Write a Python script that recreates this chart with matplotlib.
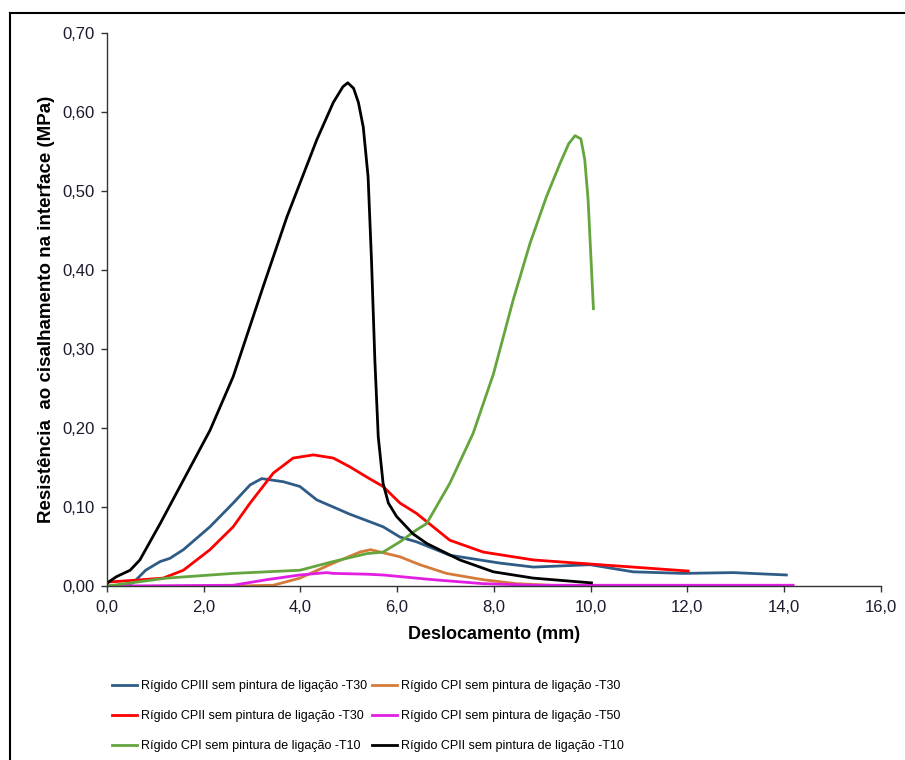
import matplotlib
matplotlib.use("Agg")
import matplotlib.pyplot as plt
from matplotlib.lines import Line2D
from matplotlib.ticker import FuncFormatter

plt.rcParams["font.family"] = ["Liberation Sans", "DejaVu Sans"]

# --- data (x: mm, y: MPa) ---
blue_x = [0.0, 0.30, 0.54, 0.80, 1.10, 1.30, 1.58, 2.13, 2.61, 2.96, 3.20, 3.65, 3.99, 4.34, 5.02, 5.71, 6.06, 6.40, 7.09, 8.13, 8.82, 9.99, 10.88, 11.92, 12.95, 14.05]
blue_y = [0.0, 0.0, 0.004, 0.020, 0.031, 0.035, 0.046, 0.075, 0.105, 0.128, 0.136, 0.132, 0.126, 0.109, 0.091, 0.075, 0.062, 0.056, 0.039, 0.029, 0.024, 0.027, 0.018, 0.016, 0.017, 0.014]

orange_x = [2.60, 3.44, 3.99, 4.68, 5.23, 5.45, 6.06, 6.47, 7.02, 7.78, 8.47, 9.50]
orange_y = [0.0, 0.001, 0.010, 0.029, 0.043, 0.046, 0.037, 0.027, 0.016, 0.008, 0.003, 0.0]

red_x = [0.0, 0.50, 1.16, 1.58, 2.13, 2.61, 2.96, 3.44, 3.85, 4.27, 4.68, 5.02, 5.37, 5.71, 6.06, 6.40, 7.09, 7.78, 8.82, 10.19, 12.02]
red_y = [0.005, 0.007, 0.010, 0.020, 0.046, 0.075, 0.105, 0.143, 0.162, 0.166, 0.162, 0.151, 0.138, 0.126, 0.105, 0.092, 0.058, 0.043, 0.033, 0.027, 0.019]

pink_x = [0.0, 2.61, 3.30, 3.99, 4.54, 4.68, 5.37, 5.71, 6.40, 6.75, 7.78, 8.82, 14.19]
pink_y = [0.0, 0.001, 0.008, 0.014, 0.017, 0.016, 0.015, 0.014, 0.010, 0.008, 0.003, 0.001, 0.001]

green_x = [0.0, 1.23, 2.61, 3.99, 4.68, 5.37, 5.71, 6.06, 6.40, 6.61, 7.09, 7.57, 7.99, 8.40, 8.75, 9.09, 9.37, 9.55, 9.68, 9.80, 9.88, 9.95, 10.06]
green_y = [0.0, 0.010, 0.016, 0.020, 0.031, 0.041, 0.043, 0.056, 0.071, 0.079, 0.130, 0.193, 0.268, 0.362, 0.434, 0.493, 0.535, 0.560, 0.570, 0.566, 0.540, 0.489, 0.351]

black_x = [0.0, 0.03, 0.20, 0.48, 0.68, 1.10, 1.58, 2.13, 2.61, 3.23, 3.72, 4.34, 4.68, 4.88, 4.98, 5.10, 5.20, 5.30, 5.40, 5.47, 5.54, 5.61, 5.71, 5.82, 5.99, 6.33, 6.61, 7.30, 7.99, 8.82, 10.02]
black_y = [0.003, 0.005, 0.012, 0.020, 0.033, 0.079, 0.134, 0.197, 0.265, 0.379, 0.467, 0.565, 0.612, 0.632, 0.637, 0.630, 0.612, 0.581, 0.518, 0.413, 0.286, 0.189, 0.130, 0.105, 0.088, 0.066, 0.054, 0.033, 0.018, 0.010, 0.004]

series = [
    ("Rígido CPIII sem pintura de ligação -T30", blue_x, blue_y, "#2E5C86"),
    ("Rígido CPI sem pintura de ligação -T30", orange_x, orange_y, "#D57B3A"),
    ("Rígido CPII sem pintura de ligação -T30", red_x, red_y, "#FF0000"),
    ("Rígido CPI sem pintura de ligação -T50", pink_x, pink_y, "#E21EE2"),
    ("Rígido CPI sem pintura de ligação -T10", green_x, green_y, "#65A53D"),
    ("Rígido CPII sem pintura de ligação -T10", black_x, black_y, "#000000"),
]

fig = plt.figure(figsize=(9.05, 7.6), dpi=100)
ax = fig.add_axes([0.1182, 0.2289, 0.8549, 0.7277])

lines = {}
for label, xs, ys, color in series:
    ln, = ax.plot(xs, ys, color=color, linewidth=2.0, label=label)
    lines[label] = ln

ax.set_xlim(0, 16)
ax.set_ylim(0, 0.70)
ax.set_xticks([0, 2, 4, 6, 8, 10, 12, 14, 16])
ax.set_yticks([0, 0.1, 0.2, 0.3, 0.4, 0.5, 0.6, 0.7])
ax.xaxis.set_major_formatter(FuncFormatter(lambda v, p: f"{v:.1f}".replace(".", ",")))
ax.yaxis.set_major_formatter(FuncFormatter(lambda v, p: f"{v:.2f}".replace(".", ",")))
ax.tick_params(direction="out", length=4, width=1, labelsize=12, color="#333333", labelcolor="#1a1a2e")
ax.tick_params(axis="x", pad=6)
ax.tick_params(axis="y", pad=5)
for s in ["top", "right"]:
    ax.spines[s].set_visible(False)
for s in ["left", "bottom"]:
    ax.spines[s].set_color("#333333")
    ax.spines[s].set_linewidth(1)

ax.set_xlabel("Deslocamento (mm)", fontsize=13, fontweight="bold", labelpad=8)
ax.set_ylabel("Resistência  ao cisalhamento na interface (MPa)", fontsize=13.5, fontweight="bold", labelpad=5)

# legend: column 1 = blue, red, green ; column 2 = orange, magenta, black
order = [0, 2, 4, 1, 3, 5]
handles = [lines[series[i][0]] for i in order]
labels = [series[i][0] for i in order]
fig.legend(handles, labels, ncol=2, loc="upper left", bbox_to_anchor=(0.1185, 0.112),
           frameon=False, handlelength=2.0, handletextpad=0.3, columnspacing=0.4,
           labelspacing=1.45, borderaxespad=0, prop={"size": 9})

# outer border (left and top edges visible)
fig.add_artist(Line2D([10 / 905, 10 / 905], [0, 1 - 13 / 760], transform=fig.transFigure, color="black", linewidth=1.5))
fig.add_artist(Line2D([10 / 905, 1], [1 - 13 / 760, 1 - 13 / 760], transform=fig.transFigure, color="black", linewidth=1.5))

fig.savefig("out.png", dpi=100)
